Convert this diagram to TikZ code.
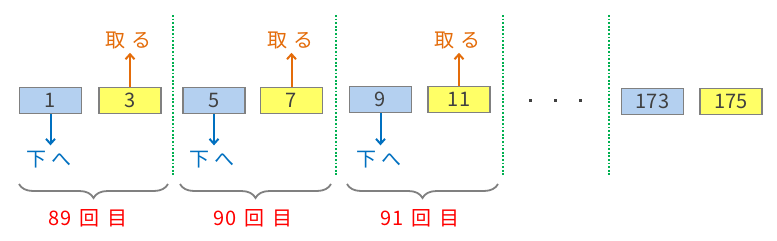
\documentclass[tikz,border=0pt]{standalone}
\usepackage{fontspec}
\setmainfont{Noto Sans CJK JP}
\usetikzlibrary{arrows.meta,decorations.pathreplacing}
\definecolor{boxblue}{HTML}{B4D0F0}
\definecolor{boxyellow}{HTML}{FFFF66}
\definecolor{boxgray}{HTML}{808080}
\definecolor{arrblue}{HTML}{0070C0}
\definecolor{arrorange}{HTML}{E46C0A}
\definecolor{sepgreen}{HTML}{00B050}
\definecolor{numgray}{HTML}{404040}
\tikzset{
  numbox/.style={draw=boxgray, line width=1.8pt, minimum width=62pt, minimum height=26pt, inner sep=0pt, text=numgray, font=\fontsize{20pt}{20pt}\selectfont},
  bluebox/.style={numbox, fill=boxblue},
  yellowbox/.style={numbox, fill=boxyellow},
  takelbl/.style={text=arrorange, inner sep=0pt, font=\fontsize{20pt}{20pt}\selectfont},
  downlbl/.style={text=arrblue, inner sep=0pt, font=\fontsize{20pt}{20pt}\selectfont},
  roundlbl/.style={text=red, inner sep=0pt, font=\fontsize{20pt}{20pt}\selectfont},
  uparrow/.style={draw=arrorange, line width=2pt, -{Straight Barb[length=5pt,width=9pt]}, shorten >=4pt},
  downarrow/.style={draw=arrblue, line width=2pt, -{Straight Barb[length=5pt,width=9pt]}, shorten >=6pt},
  sepline/.style={draw=sepgreen, line width=1.6pt, dash pattern=on 1.8pt off 1.8pt},
  roundbrace/.style={draw=boxgray, line width=1.8pt, decorate, decoration={brace, amplitude=14pt, aspect=0.5}}
}
\begin{document}
\begin{tikzpicture}[x=1pt,y=-1pt]
\useasboundingbox[fill=white] (0,0) rectangle (777,241);
% separators
\draw[sepline] (173,15) -- (173,175);
\draw[sepline] (336,15) -- (336,175);
\draw[sepline] (503,15) -- (503,175);
\draw[sepline] (609,15) -- (609,175);
% boxes
\node[bluebox] (b1) at (50.5,100.5) {1};
\node[yellowbox] (b3) at (130,100.5) {3};
\node[bluebox] (b5) at (214,100.5) {5};
\node[yellowbox] (b7) at (291.5,100.5) {7};
\node[bluebox] (b9) at (380.5,99.5) {9};
\node[yellowbox] (b11) at (459,99.5) {11};
\node[bluebox] (b173) at (652.5,101.5) {173};
\node[yellowbox] (b175) at (731,101.5) {175};
% take labels
\node[takelbl] (t3) at (128,40) {取\hspace{6pt}る};
\node[takelbl] (t7) at (290.5,40) {取\hspace{6pt}る};
\node[takelbl] (t11) at (457,40) {取\hspace{6pt}る};
\draw[uparrow] (b3.north) -- (b3.north |- t3.south);
\draw[uparrow] (b7.north) -- (b7.north |- t7.south);
\draw[uparrow] (b11.north) -- (b11.north |- t11.south);
% down labels
\node[downlbl] (d1) at (49,160) {下\hspace{5pt}へ};
\node[downlbl] (d5) at (212,160) {下\hspace{5pt}へ};
\node[downlbl] (d9) at (379,160) {下\hspace{5pt}へ};
\draw[downarrow] (b1.south) -- (b1.south |- d1.north);
\draw[downarrow] (b5.south) -- (b5.south |- d5.north);
\draw[downarrow] (b9.south) -- (b9.south |- d9.north);
% ellipsis
\fill[numgray] (528.5,98.5) rectangle +(3,3);
\fill[numgray] (553.5,98.5) rectangle +(3,3);
\fill[numgray] (578.5,98.5) rectangle +(3,3);
% braces
\coordinate (bl1) at (19,184); \coordinate (br1) at (168,184);
\coordinate (bl2) at (180,184); \coordinate (br2) at (331,184);
\coordinate (bl3) at (347,184); \coordinate (br3) at (498,184);
\draw[roundbrace, decoration={mirror}] (bl1) -- (br1);
\draw[roundbrace, decoration={mirror}] (bl2) -- (br2);
\draw[roundbrace, decoration={mirror}] (bl3) -- (br3);
\node[roundlbl] (r89) at (88,218) {89\hspace{8pt}回\hspace{8pt}目};
\node[roundlbl] (r90) at (253,218) {90\hspace{8pt}回\hspace{8pt}目};
\node[roundlbl] (r91) at (420,218) {91\hspace{8pt}回\hspace{8pt}目};
\end{tikzpicture}
\end{document}
